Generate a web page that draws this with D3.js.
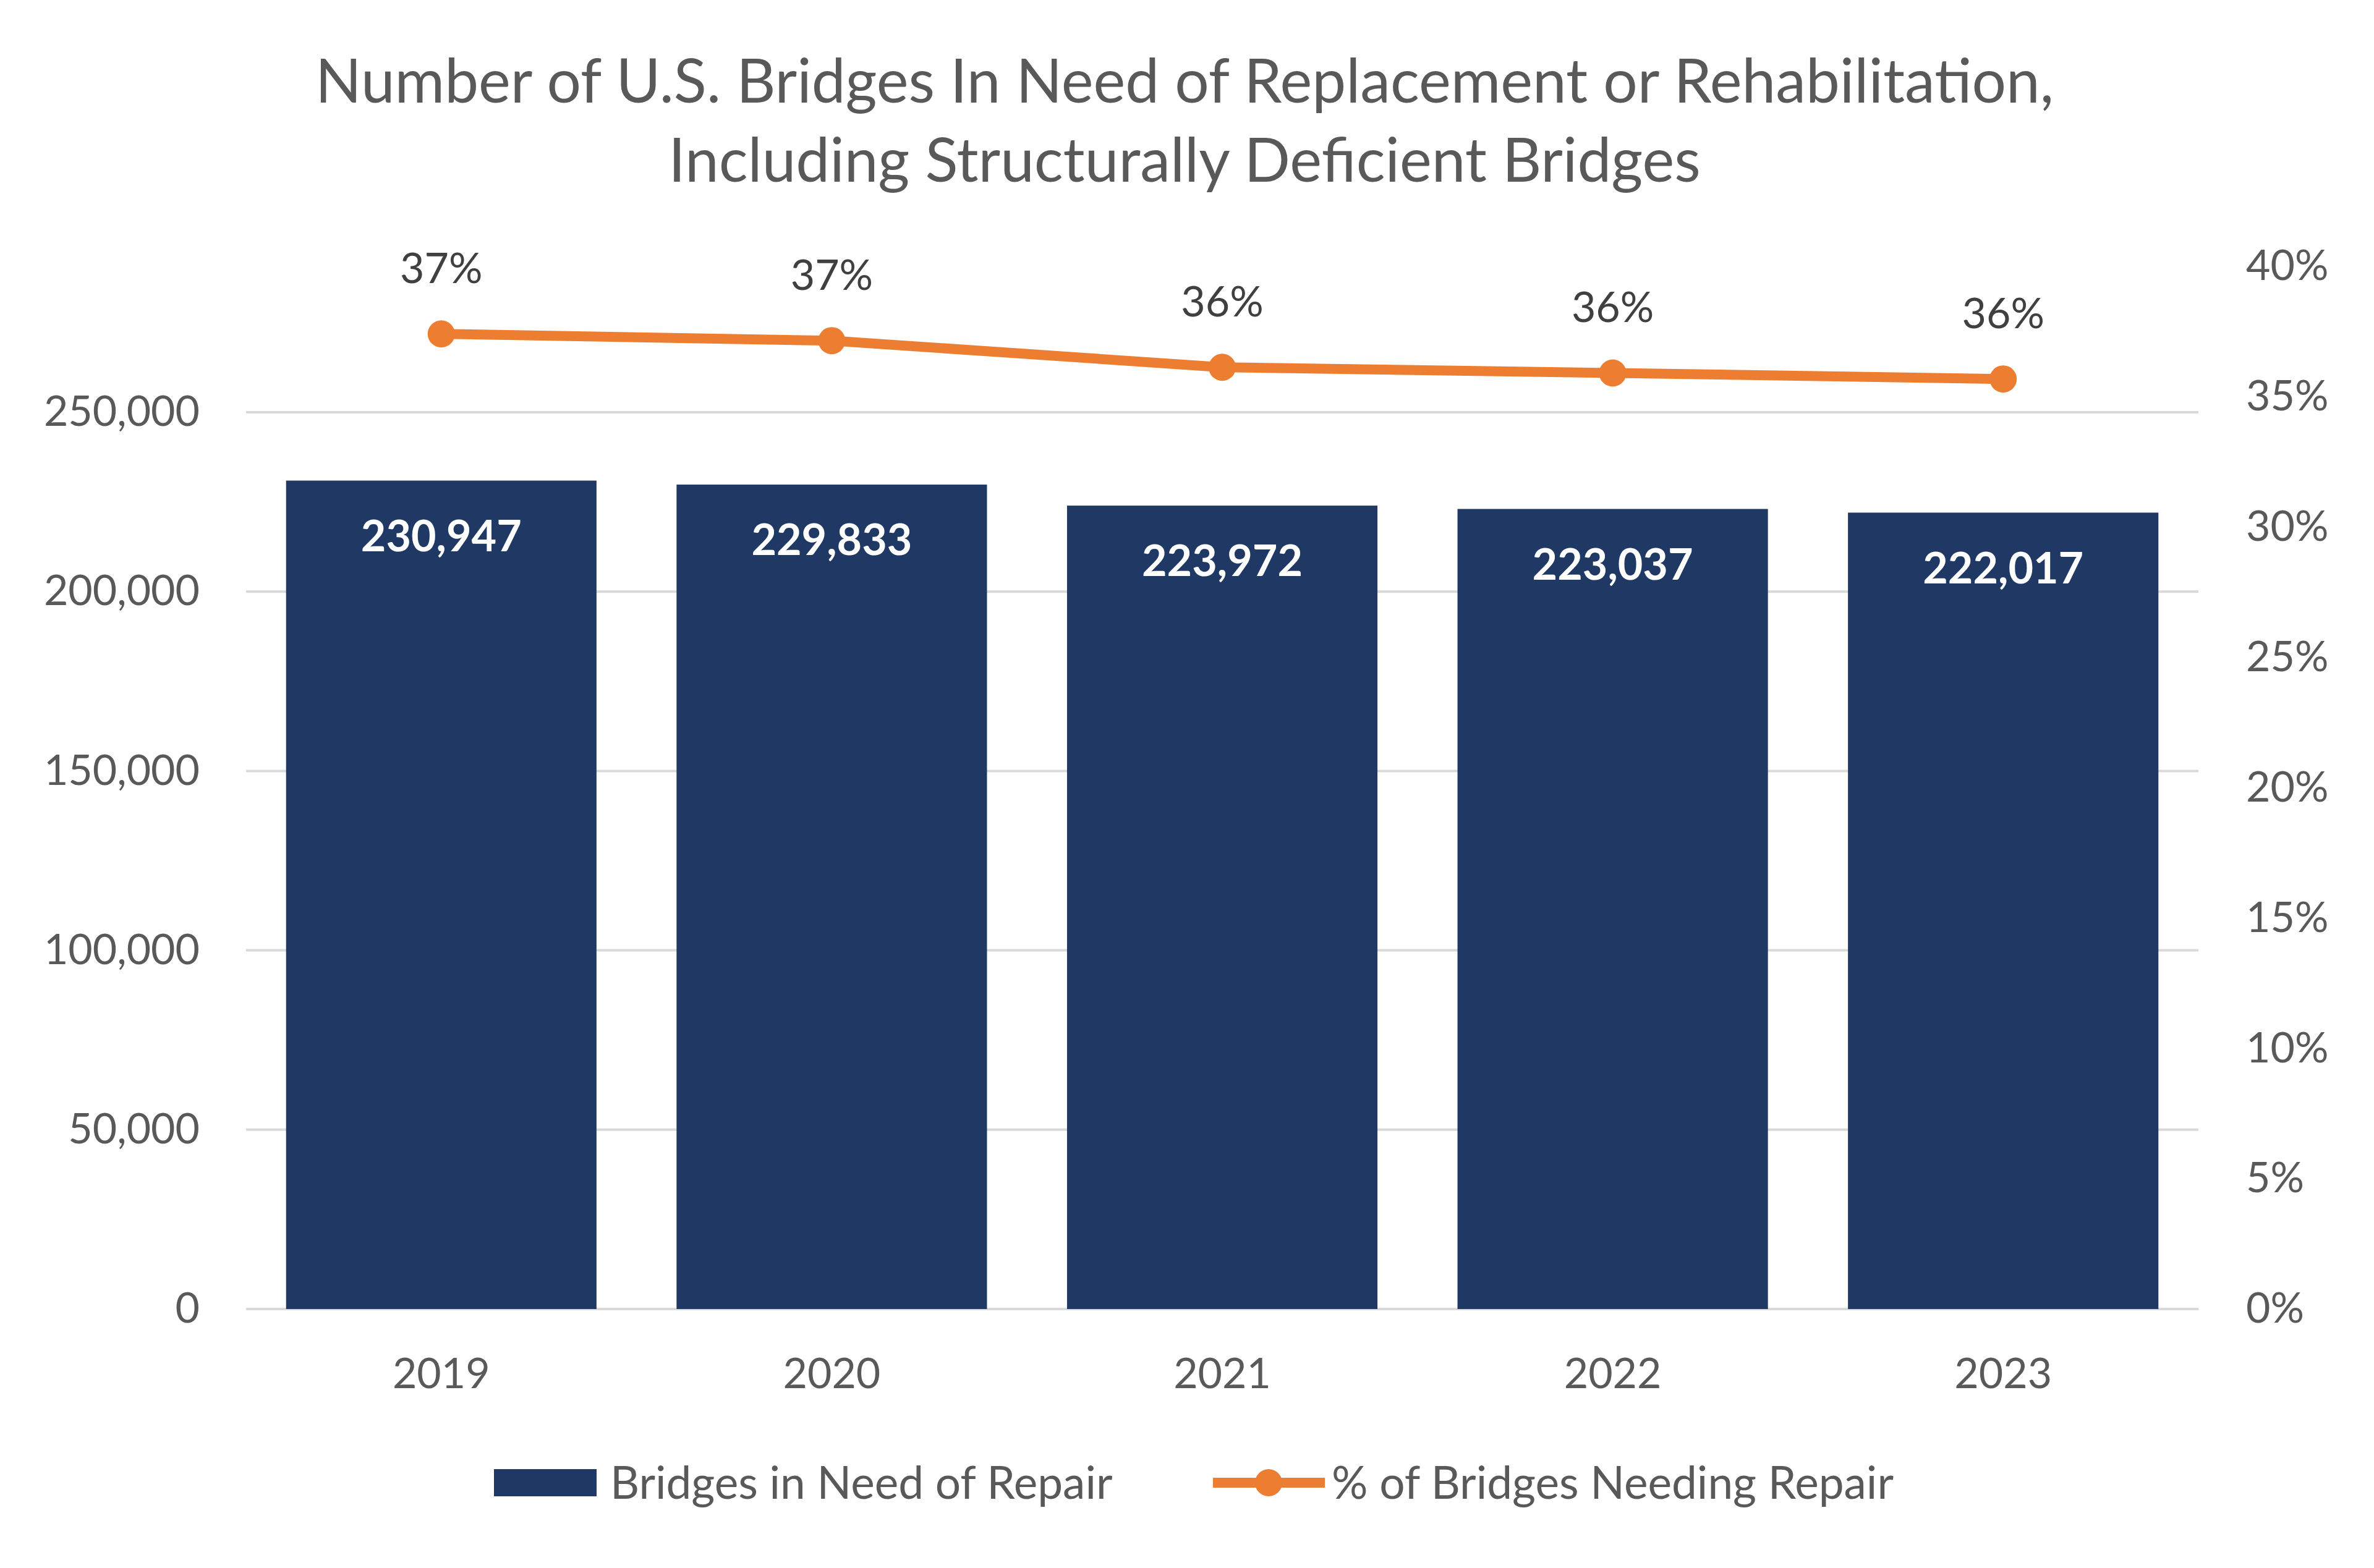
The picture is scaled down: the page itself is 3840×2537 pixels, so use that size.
<!DOCTYPE html>
<html>
<head>
<meta charset="utf-8">
<script src="https://cdn.jsdelivr.net/npm/d3@7"></script>
<style>
  body { margin: 0; background: #ffffff; }
  text { font-family: Lato, "Open Sans", sans-serif; }
</style>
</head>
<body>
<div id="chart"></div>
<script>

// chart data
let years = ["2019", "2020", "2021", "2022", "2023"];
let bridgeCounts = [230947, 229833, 223972, 223037, 222017];
let pctNeedingRepair = [0.3741, 0.3715, 0.3613, 0.3591, 0.3568];
let pctLabels = ["37%", "37%", "36%", "36%", "36%"];
let leftTicks = [0, 50000, 100000, 150000, 200000, 250000];
let rightTicks = [0, 0.05, 0.10, 0.15, 0.20, 0.25, 0.30, 0.35, 0.40];
let titleLines = [
    "Number of U.S. Bridges In Need of Replacement or Rehabilitation,",
    "Including Structurally Deficient Bridges"
];
let legendNames = ["Bridges in Need of Repair", "% of Bridges Needing Repair"];

let svgWidth = 3840;
let svgHeight = 2537;

let plot = { left: 398, right: 3556, bottom: 2118, top: 431 };

let barColor = "#1F3864";
let lineColor = "#ED7D31";
let gridColor = "#D9D9D9";
let tickColor = "#595959";

let svg = d3.select("#chart")
    .append("svg")
    .attr("width", svgWidth)
    .attr("height", svgHeight);

svg.append("rect")
    .attr("width", svgWidth)
    .attr("height", svgHeight)
    .attr("fill", "#ffffff");

let x = d3.scaleBand()
    .domain(years)
    .range([plot.left, plot.right])
    .paddingInner(0.205)
    .paddingOuter(0.1025);

let y = d3.scaleLinear()
    .domain([0, 250000])
    .range([plot.bottom, 667]);

let y2 = d3.scaleLinear()
    .domain([0, 0.40])
    .range([plot.bottom, plot.top]);

// title
svg.append("g")
    .selectAll("text")
    .data(titleLines)
    .enter()
    .append("text")
    .attr("x", 1916)
    .attr("y", (d, i) => 166 + i * 128)
    .attr("text-anchor", "middle")
    .attr("font-size", "98px")
    .attr("fill", tickColor)
    .text(d => d);

// gridlines
svg.append("g")
    .selectAll("line")
    .data(leftTicks)
    .enter()
    .append("line")
    .attr("x1", plot.left)
    .attr("x2", plot.right)
    .attr("y1", d => y(d))
    .attr("y2", d => y(d))
    .attr("stroke", gridColor)
    .attr("stroke-width", 4);

// left axis
let leftAxis = svg.append("g")
    .attr("transform", `translate(${plot.left}, 0)`)
    .call(d3.axisLeft(y).tickValues(leftTicks).tickFormat(d3.format(",")).tickSize(0).tickPadding(75));

// right axis
let rightAxis = svg.append("g")
    .attr("transform", `translate(${plot.right}, 0)`)
    .call(d3.axisRight(y2).tickValues(rightTicks).tickFormat(d3.format(".0%")).tickSize(0).tickPadding(77));

// bottom axis
let bottomAxis = svg.append("g")
    .attr("transform", `translate(0, ${plot.bottom})`)
    .call(d3.axisBottom(x).tickSize(0).tickPadding(80));

[leftAxis, rightAxis, bottomAxis].forEach(a => {
    a.select(".domain").remove();
    a.selectAll("text")
        .attr("font-family", "Lato, 'Open Sans', sans-serif")
        .attr("font-size", "68px")
        .attr("fill", tickColor);
});

// bars
let rows = years.map((yr, i) => ({ year: yr, count: bridgeCounts[i], pct: pctNeedingRepair[i], pctLabel: pctLabels[i] }));

svg.append("g")
    .selectAll("rect")
    .data(rows)
    .enter()
    .append("rect")
    .attr("x", d => x(d.year))
    .attr("y", d => y(d.count))
    .attr("width", x.bandwidth())
    .attr("height", d => y(0) - y(d.count))
    .attr("fill", barColor);

svg.append("g")
    .selectAll("text")
    .data(rows)
    .enter()
    .append("text")
    .attr("x", d => x(d.year) + x.bandwidth() / 2)
    .attr("y", d => y(d.count) + 89)
    .attr("dy", "0.36em")
    .attr("text-anchor", "middle")
    .attr("font-size", "70px")
    .attr("font-weight", "bold")
    .attr("fill", "#ffffff")
    .text(d => d3.format(",")(d.count));

// percent line
let pctLine = d3.line()
    .x(d => x(d.year) + x.bandwidth() / 2)
    .y(d => y2(d.pct));

svg.append("path")
    .datum(rows)
    .attr("d", pctLine)
    .attr("fill", "none")
    .attr("stroke", lineColor)
    .attr("stroke-width", 16)
    .attr("stroke-linejoin", "round")
    .attr("stroke-linecap", "round");

svg.append("g")
    .selectAll("circle")
    .data(rows)
    .enter()
    .append("circle")
    .attr("cx", d => x(d.year) + x.bandwidth() / 2)
    .attr("cy", d => y2(d.pct))
    .attr("r", 22)
    .attr("fill", lineColor);

svg.append("g")
    .selectAll("text")
    .data(rows)
    .enter()
    .append("text")
    .attr("x", d => x(d.year) + x.bandwidth() / 2)
    .attr("y", d => y2(d.pct) - 107)
    .attr("dy", "0.36em")
    .attr("text-anchor", "middle")
    .attr("font-size", "68px")
    .attr("fill", "#404040")
    .text(d => d.pctLabel);

// legend
let legend = svg.append("g");

legend.append("rect")
    .attr("x", 799)
    .attr("y", 2377)
    .attr("width", 166)
    .attr("height", 44)
    .attr("fill", barColor);

legend.append("text")
    .attr("x", 987)
    .attr("y", 2399)
    .attr("dy", "0.36em")
    .attr("font-size", "73px")
    .attr("fill", tickColor)
    .text(legendNames[0]);

legend.append("line")
    .attr("x1", 1962)
    .attr("x2", 2143)
    .attr("y1", 2399)
    .attr("y2", 2399)
    .attr("stroke", lineColor)
    .attr("stroke-width", 16);

legend.append("circle")
    .attr("cx", 2052)
    .attr("cy", 2399)
    .attr("r", 22)
    .attr("fill", lineColor);

legend.append("text")
    .attr("x", 2154)
    .attr("y", 2399)
    .attr("dy", "0.36em")
    .attr("font-size", "73px")
    .attr("fill", tickColor)
    .text(legendNames[1]);

</script>
</body>
</html>
